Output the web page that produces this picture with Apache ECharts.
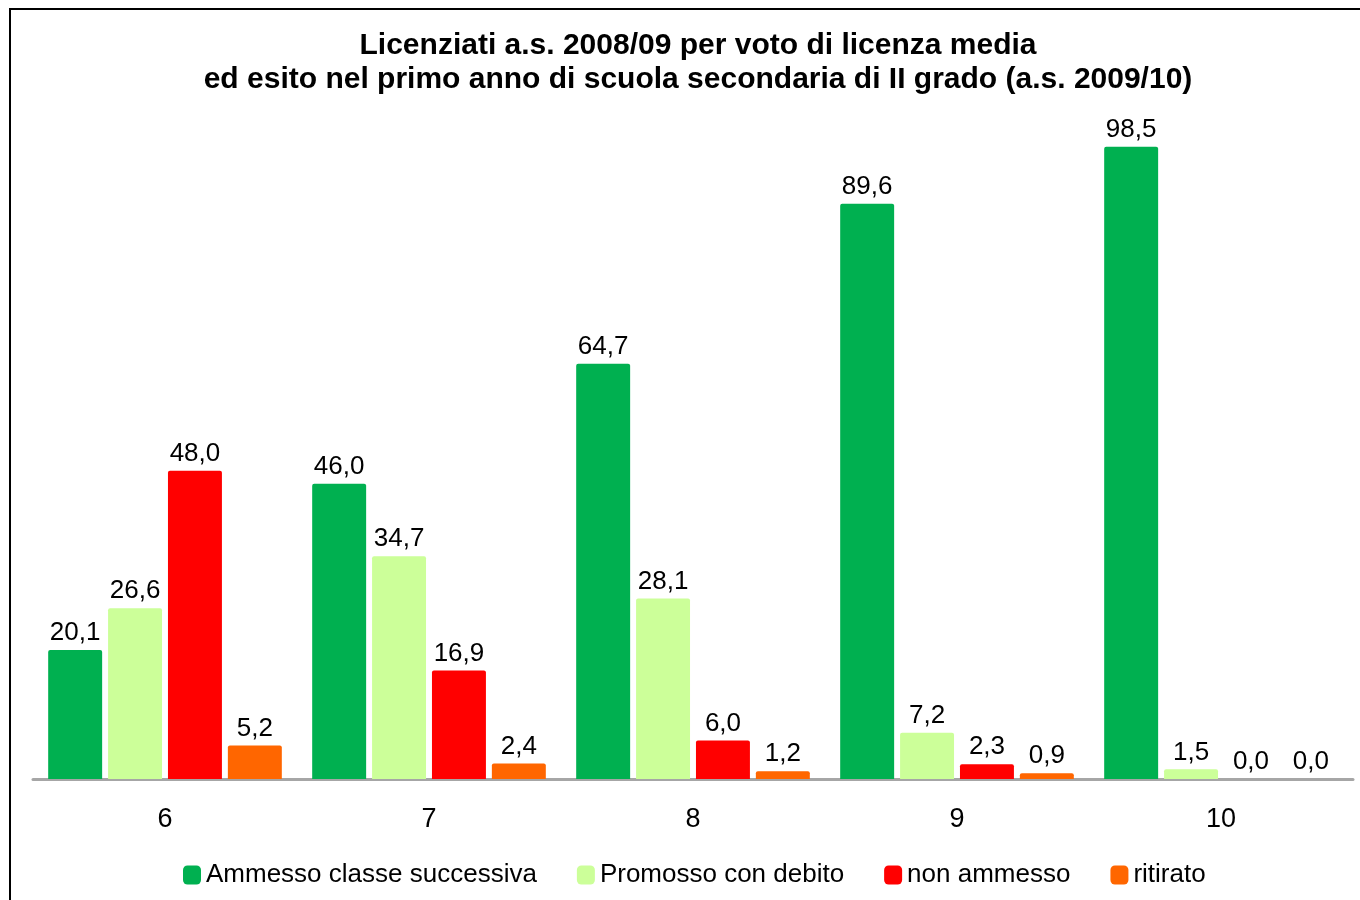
<!DOCTYPE html>
<html>
<head>
<meta charset="utf-8">
<script src="https://cdn.jsdelivr.net/npm/echarts@6/dist/echarts.min.js"></script>
<style>
  html, body { margin: 0; padding: 0; background: #fff; }
  #chart { width: 1360px; height: 900px; }
</style>
</head>
<body>
<div id="chart"></div>
<script>
// voto di licenza media
const categories = ['6', '7', '8', '9', '10']

// esito nel primo anno (valori %)
const ammesso = [20.1, 46.0, 64.7, 89.6, 98.5]
const promosso = [26.6, 34.7, 28.1, 7.2, 1.5]
const nonAmmesso = [48.0, 16.9, 6.0, 2.3, 0.0]
const ritirato = [5.2, 2.4, 1.2, 0.9, 0.0]

const seriesNames = ['Ammesso classe successiva', 'Promosso con debito', 'non ammesso', 'ritirato']
const COLORS = ['#00b050', '#ccff99', '#ff0000', '#ff6600']

const FONT = 'Liberation Sans, Arial, sans-serif'

const fmt = v => Number(v).toFixed(1).replace('.', ',')

const chart = echarts.init(document.getElementById('chart'))

function bar(name, data, i) {
  return {
    name,
    type: 'bar',
    data,
    barGap: '11%',
    barCategoryGap: '11.5%',
    itemStyle: { color: COLORS[i], borderRadius: [2, 2, 0, 0] },
    label: {
      show: true, position: 'top', distance: 4,
      color: '#000', fontSize: 26, fontFamily: FONT,
      formatter: p => fmt(p.value)
    }
  }
}

chart.setOption({
  animation: false,
  backgroundColor: '#fff',
  title: {
    text: 'Licenziati a.s. 2008/09 per voto di licenza media\ned esito nel primo anno di scuola secondaria di II grado (a.s. 2009/10)',
    left: 693, top: 24, textAlign: 'center',
    textStyle: { fontSize: 30, fontWeight: 'bold', color: '#000', fontFamily: FONT, lineHeight: 34 }
  },
  graphic: [{
    type: 'rect', z: 100,
    shape: { x: 10, y: 9, width: 1400, height: 1000 },
    style: { fill: 'none', stroke: '#000', lineWidth: 2 }
  }],
  legend: {
    top: 857, left: 178,
    icon: 'roundRect', itemWidth: 18, itemHeight: 19, itemGap: 40,
    textStyle: { fontSize: 26, color: '#000', fontFamily: FONT },
    data: seriesNames
  },
  grid: { left: 33, right: 7, top: 137, bottom: 121 },
  xAxis: {
    type: 'category',
    data: categories,
    axisLine: { lineStyle: { color: '#a6a6a6', width: 3 } },
    axisTick: { show: false },
    axisLabel: { color: '#000', fontSize: 27, fontFamily: FONT, margin: 27 }
  },
  yAxis: {
    type: 'value', min: 0, max: 100,
    show: false,
    splitLine: { show: false }
  },
  series: [
    bar(seriesNames[0], ammesso, 0),
    bar(seriesNames[1], promosso, 1),
    bar(seriesNames[2], nonAmmesso, 2),
    bar(seriesNames[3], ritirato, 3)
  ]
})

window.addEventListener('resize', () => chart.resize())
</script>
</body>
</html>
